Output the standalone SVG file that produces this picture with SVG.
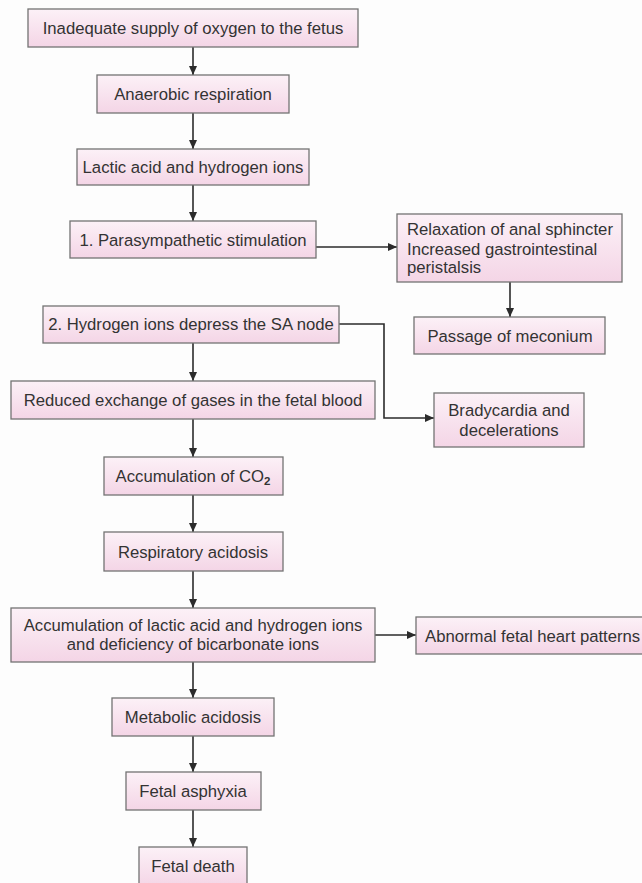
<svg xmlns="http://www.w3.org/2000/svg" width="642" height="883" viewBox="0 0 642 883">
<defs>
<linearGradient id="pink" x1="0" y1="0" x2="0" y2="1">
<stop offset="0" stop-color="#fcf1f7"/>
<stop offset="1" stop-color="#f4d5e6"/>
</linearGradient>
<marker id="arr" markerUnits="userSpaceOnUse" markerWidth="10" markerHeight="10" viewBox="0 0 10 10" refX="9" refY="5" orient="auto">
<path d="M0,1 L9,5 L0,9 Z" fill="#2b2b2b"/>
</marker>
<style>
.box{fill:url(#pink);stroke:#737373;stroke-width:1.3}
.t{font-family:"Liberation Sans",Arial,sans-serif;font-size:16.7px;fill:#333;text-anchor:middle}
.l{text-anchor:start}
.c{fill:none;stroke:#2b2b2b;stroke-width:1.6;marker-end:url(#arr)}
</style>
</defs>
<rect width="642" height="883" fill="#fdfdfd"/>
<g id="connectors">
<path class="c" d="M193,47 V75"/>
<path class="c" d="M193,113 V149"/>
<path class="c" d="M193,185 V221"/>
<path class="c" d="M316,247 H397"/>
<path class="c" d="M510,282 V317"/>
<path class="c" d="M339,324 H384 V418 H434"/>
<path class="c" d="M193,343 V381"/>
<path class="c" d="M193,419 V457"/>
<path class="c" d="M193,495 V532"/>
<path class="c" d="M193,571 V608"/>
<path class="c" d="M375,635 H416"/>
<path class="c" d="M193,662 V698"/>
<path class="c" d="M193,736 V772"/>
<path class="c" d="M193,810 V847"/>
</g>
<g id="n1"><rect class="box" x="28" y="9" width="330" height="38"/><text class="t" x="193" y="34">Inadequate supply of oxygen to the fetus</text></g>
<g id="n2"><rect class="box" x="97" y="75" width="192" height="38"/><text class="t" x="193" y="100">Anaerobic respiration</text></g>
<g id="n3"><rect class="box" x="77" y="149" width="232" height="36"/><text class="t" x="193" y="173">Lactic acid and hydrogen ions</text></g>
<g id="n4"><rect class="box" x="70" y="221" width="246" height="37"/><text class="t" x="193" y="245.5">1. Parasympathetic stimulation</text></g>
<g id="n5"><rect class="box" x="397" y="214" width="225" height="68"/><text class="t l" x="407"><tspan x="407" y="235">Relaxation of anal sphincter</tspan><tspan x="407" y="254.5">Increased gastrointestinal</tspan><tspan x="407" y="273">peristalsis</tspan></text></g>
<g id="n6"><rect class="box" x="414" y="317" width="191" height="37"/><text class="t" x="510" y="341.5">Passage of meconium</text></g>
<g id="n7"><rect class="box" x="43" y="306" width="296" height="37"/><text class="t" x="191" y="330">2. Hydrogen ions depress the SA node</text></g>
<g id="n8"><rect class="box" x="11" y="381" width="364" height="38"/><text class="t" x="193" y="406">Reduced exchange of gases in the fetal blood</text></g>
<g id="n9"><rect class="box" x="434" y="393" width="150" height="54"/><text class="t" x="509"><tspan x="509" y="416">Bradycardia and</tspan><tspan x="509" y="436">decelerations</tspan></text></g>
<g id="n10"><rect class="box" x="104" y="457" width="179" height="38"/><text class="t" x="193" y="482">Accumulation of CO<tspan font-size="11.5" font-weight="bold" dy="3">2</tspan></text></g>
<g id="n11"><rect class="box" x="104" y="532" width="179" height="39"/><text class="t" x="193" y="557.5">Respiratory acidosis</text></g>
<g id="n12"><rect class="box" x="11" y="608" width="364" height="54"/><text class="t" x="193"><tspan x="193" y="631">Accumulation of lactic acid and hydrogen ions</tspan><tspan x="193" y="650">and deficiency of bicarbonate ions</tspan></text></g>
<g id="n13"><rect class="box" x="416" y="617" width="230" height="37"/><text class="t l" x="425" y="641.5">Abnormal fetal heart patterns</text></g>
<g id="n14"><rect class="box" x="112" y="698" width="162" height="38"/><text class="t" x="193" y="723">Metabolic acidosis</text></g>
<g id="n15"><rect class="box" x="126" y="772" width="135" height="38"/><text class="t" x="193" y="797">Fetal asphyxia</text></g>
<g id="n16"><rect class="box" x="139" y="847" width="108" height="40"/><text class="t" x="193" y="872">Fetal death</text></g>
</svg>
